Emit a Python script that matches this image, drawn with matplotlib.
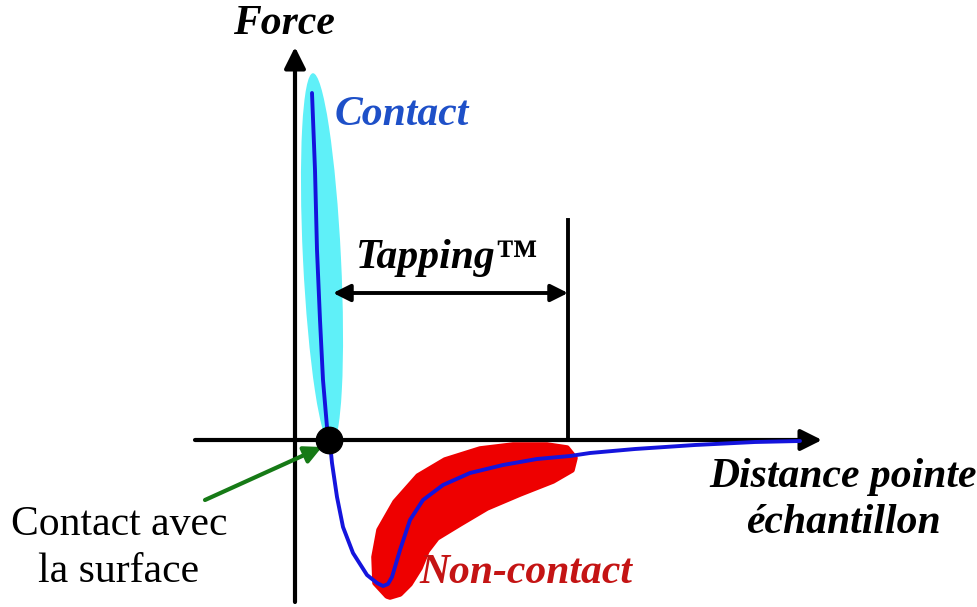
import matplotlib.pyplot as plt
from matplotlib.patches import Ellipse, Polygon

# origin = where the two axes cross, units ~ pixels, y up
# force-distance curve
curve_x = [17, 20, 22, 25, 28, 32, 35, 37, 42, 48, 58, 72, 82, 88, 93, 97, 105, 115, 128, 148, 175, 208, 242, 275, 295, 340, 400, 460, 505]
curve_y = [347, 270, 190, 120, 60, 13, -3, -23, -57, -87, -113, -135, -143, -146, -144, -137, -110, -80, -60, -45, -33, -25, -19, -16, -13, -9, -5, -2, -1]

# red zone (non-contact) outline
red_x = [92, 80, 79, 84, 100, 123, 150, 185, 218, 252, 272, 280, 277, 258, 225, 192, 165, 142, 132, 125, 115, 105, 95]
red_y = [-156, -143, -117, -90, -62, -36, -20, -9, -5, -5, -8, -18, -30, -41, -54, -68, -84, -98, -111, -128, -144, -154, -157]

# cyan zone (contact)
contact_center = (27, 181)
contact_size = (38, 372)

tapping_end = 273
tapping_y = 147

fig = plt.figure(figsize=(9.78, 6.07), dpi=100)
ax = fig.add_axes([0, 0, 1, 1])
ax.set_xlim(-295, 683)
ax.set_ylim(-167, 440)
ax.axis('off')

serif = 'Liberation Serif'

ax.add_patch(Ellipse(contact_center, contact_size[0], contact_size[1], angle=2.8,
                     facecolor='#5ff0f8', edgecolor='none', zorder=1))
ax.add_patch(Polygon(list(zip(red_x, red_y)), closed=True, facecolor='#ee0000',
                     edgecolor='#ee0000', lw=4, joinstyle='round', zorder=1))

# axes
ax.annotate('', xy=(0, 393), xytext=(0, -162),
            arrowprops=dict(arrowstyle='-|>', lw=3, color='black', mutation_scale=32, shrinkA=0, shrinkB=0))
ax.annotate('', xy=(527, 0), xytext=(-100, 0),
            arrowprops=dict(arrowstyle='-|>', lw=3, color='black', mutation_scale=32, shrinkA=0, shrinkB=0))

# tapping range
ax.plot([tapping_end, tapping_end], [0, 220], color='black', lw=2.8, zorder=3)
ax.annotate('', xy=(38, tapping_y), xytext=(tapping_end, tapping_y),
            arrowprops=dict(arrowstyle='<|-|>', lw=2.8, color='black', mutation_scale=26, shrinkA=0, shrinkB=0),
            zorder=3)

ax.plot(curve_x, curve_y, color='#1414dd', lw=2.8, solid_capstyle='round',
        solid_joinstyle='round', zorder=4)
ax.plot([34], [0], 'o', color='black', ms=19, zorder=5)

# contact arrow
ax.annotate('', xy=(27, -7), xytext=(-90, -60),
            arrowprops=dict(arrowstyle='-|>', lw=3, color='#167a16', mutation_scale=26, shrinkA=0, shrinkB=0))

big = dict(fontsize=30, family=serif, weight='bold', style='italic', ha='center', va='center')
ax.text(-11, 416, 'Force', **big)
ax.text(107, 325, 'Contact', color='#1e50c8', **big)
ax.text(152, 182, 'Tapping™', **big)
ax.text(231, -133, 'Non-contact', color='#c41414', **big)
ax.text(548, -60, 'Distance pointe\néchantillon', linespacing=1.3, **big)
ax.text(-176, -108, 'Contact avec\nla surface', fontsize=30, family=serif,
        ha='center', va='center', linespacing=1.3)

fig.savefig('out.png', dpi=100)
